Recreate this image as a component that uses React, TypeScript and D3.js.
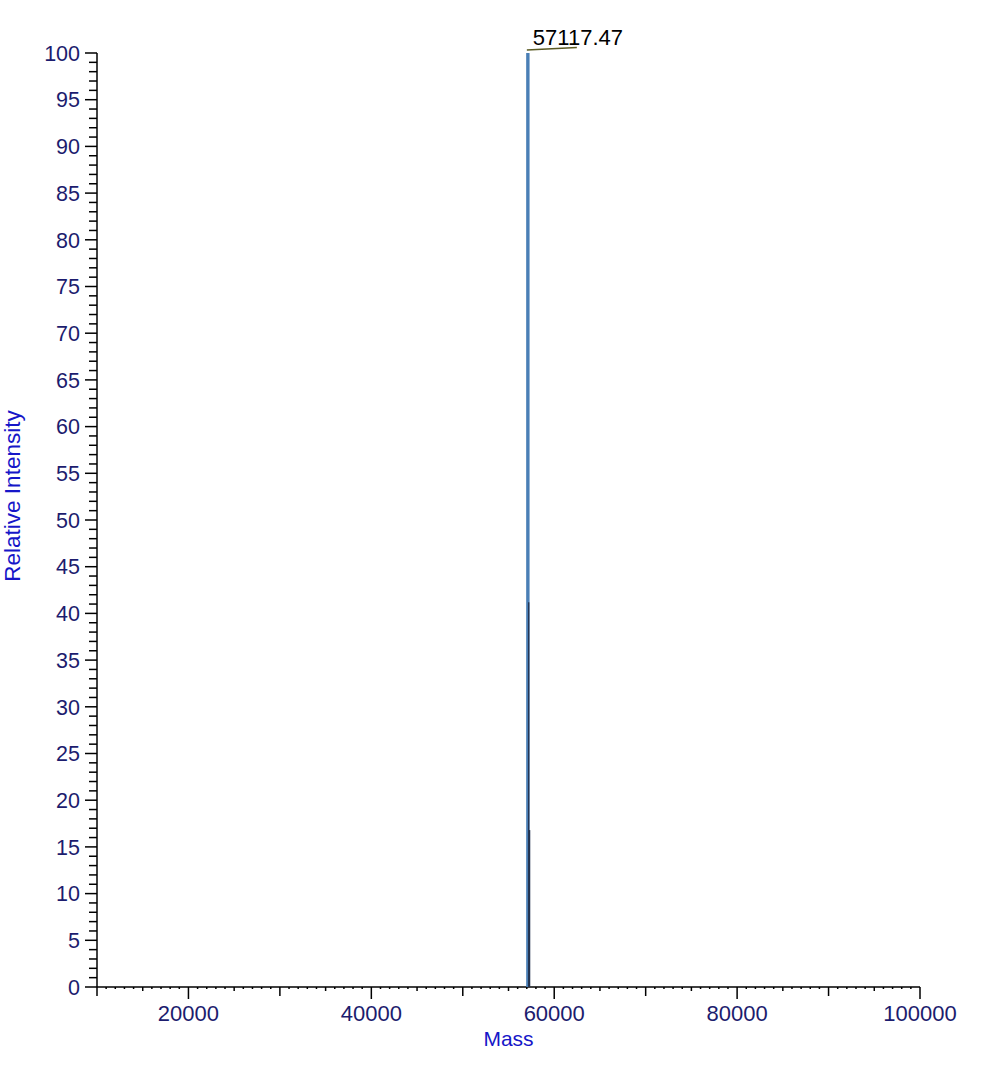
import * as d3 from 'd3';

// deconvoluted spectrum peaks
const mainPeak = { mass: 57117.47, intensity: 100 };
const shoulderMasses = [57210, 57310];
const shoulderIntensities = [41.2, 16.8];

const xDomain: [number, number] = [10000, 100000];
const yDomain: [number, number] = [0, 100];
const xLabelTicks = [20000, 40000, 60000, 80000, 100000];
const yLabelTicks = [0, 5, 10, 15, 20, 25, 30, 35, 40, 45, 50, 55, 60, 65, 70, 75, 80, 85, 90, 95, 100];

const W = 1000;
const H = 1066;
const font = '"Liberation Sans", Arial, sans-serif';
const tickColor = '#1c1c6e';
const titleColor = '#1616c8';

const App = () => {
  const x = d3.scaleLinear().domain(xDomain).range([97, 920]);
  const y = d3.scaleLinear().domain(yDomain).range([987, 53]);

  const xMinor = d3.range(xDomain[0], xDomain[1] + 1, 1000);
  const yMinor = d3.range(yDomain[0], yDomain[1] + 1, 1);

  const xTickLen = (v: number) => {
    if (v % 20000 === 0) return 12;
    if (v % 10000 === 0) return 9;
    if (v % 5000 === 0) return 4;
    return 2;
  };

  const px = x(mainPeak.mass);
  const py = y(mainPeak.intensity);

  return (
    <svg
      width={W}
      height={H}
      style={{ position: 'absolute', left: 0, top: 0, background: '#fff' }}
      fontFamily={font}
    >
      <rect width={W} height={H} fill="#fff" />

      {/* x axis */}
      <line x1={x(xDomain[0])} x2={x(xDomain[1])} y1={y(0)} y2={y(0)} stroke="#000" strokeWidth={1.5} />
      {xMinor.map((v) => (
        <line key={v} x1={x(v)} x2={x(v)} y1={y(0)} y2={y(0) + xTickLen(v)} stroke="#000" strokeWidth={1.5} />
      ))}
      {xLabelTicks.map((v) => (
        <text key={v} x={x(v)} y={1021} textAnchor="middle" fontSize={22} fill={tickColor}>
          {v}
        </text>
      ))}
      <text x={(x(xDomain[0]) + x(xDomain[1])) / 2} y={1046} textAnchor="middle" fontSize={21} fill={titleColor}>
        Mass
      </text>

      {/* y axis */}
      <line x1={x(xDomain[0])} x2={x(xDomain[0])} y1={y(100)} y2={y(0)} stroke="#000" strokeWidth={1.5} />
      {yMinor.map((v) => (
        <line
          key={v}
          x1={x(xDomain[0]) - (v % 5 === 0 ? 12 : 8)}
          x2={x(xDomain[0])}
          y1={y(v)}
          y2={y(v)}
          stroke="#000"
          strokeWidth={1.5}
        />
      ))}
      {yLabelTicks.map((v) => (
        <text key={v} x={80} y={y(v)} dy="0.36em" textAnchor="end" fontSize={21.5} fill={tickColor}>
          {v}
        </text>
      ))}
      <text
        transform={`translate(20,496) rotate(-90)`}
        textAnchor="middle"
        fontSize={22.5}
        fill={titleColor}
      >
        Relative Intensity
      </text>

      {/* spectrum */}
      <line x1={px} x2={px} y1={y(0)} y2={py} stroke="#4a7fb6" strokeWidth={3.4} />
      {shoulderMasses.map((m, i) => (
        <line
          key={m}
          x1={x(m)}
          x2={x(m)}
          y1={y(0)}
          y2={y(shoulderIntensities[i])}
          stroke="#22324e"
          strokeWidth={1.3}
        />
      ))}

      {/* peak annotation */}
      <line x1={px - 1} y1={py - 3} x2={px + 49} y2={py - 5.5} stroke="#5a5a22" strokeWidth={1.6} />
      <text x={px + 5} y={py - 8} fontSize={22} fill="#000">
        {mainPeak.mass.toFixed(2)}
      </text>
    </svg>
  );
};

export default App;
